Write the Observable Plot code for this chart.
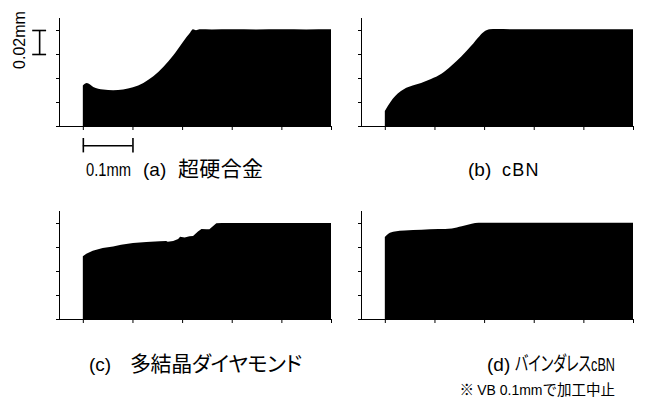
<!DOCTYPE html>
<html><head><meta charset="utf-8">
<script src="https://cdn.jsdelivr.net/npm/d3@7"></script>
<script src="https://cdn.jsdelivr.net/npm/@observablehq/plot@0.6"></script>
<style>
body{margin:0;background:#fff}
#root{position:relative;width:647px;height:402px;overflow:hidden;background:#fff}
.panel{position:absolute}
#labels{position:absolute;left:0;top:0}
</style></head><body><div id="root"></div>
<script>
// ---- data (mm) ----
const xTicks = [0, 0.1, 0.2, 0.3, 0.4, 0.5];
const yTicks = [0, 0.02, 0.04, 0.06, 0.08];

// (a) 超硬合金
const xA = [0, 0.004, 0.008, 0.021, 0.041, 0.061, 0.081, 0.101, 0.122, 0.142, 0.162, 0.182, 0.202, 0.216, 0.222, 0.228, 0.235, 0.26, 0.3, 0.35, 0.4, 0.45, 0.5];
const yA = [0.0337, 0.0352, 0.0358, 0.0326, 0.0304, 0.0298, 0.0304, 0.0323, 0.0359, 0.0414, 0.0491, 0.0588, 0.0703, 0.0778, 0.0806, 0.0798, 0.0806, 0.0805, 0.0806, 0.0805, 0.0806, 0.0805, 0.0806];
// (b) cBN
const xB = [0, 0.006, 0.016, 0.026, 0.039, 0.056, 0.073, 0.093, 0.114, 0.134, 0.154, 0.174, 0.191, 0.201, 0.211, 0.225, 0.26, 0.3, 0.35, 0.4, 0.45, 0.5];
const yB = [0.0124, 0.0166, 0.0227, 0.0271, 0.0309, 0.0337, 0.0359, 0.0392, 0.0436, 0.0502, 0.0579, 0.0668, 0.0751, 0.0789, 0.0806, 0.0808, 0.0806, 0.0807, 0.0806, 0.0807, 0.0806, 0.0806];
// (c) 多結晶ダイヤモンド
const xC = [0, 0.007, 0.020, 0.040, 0.061, 0.077, 0.101, 0.128, 0.155, 0.168, 0.171, 0.182, 0.192, 0.196, 0.205, 0.215, 0.222, 0.232, 0.239, 0.249, 0.255, 0.262, 0.269, 0.28, 0.32, 0.36, 0.4, 0.45, 0.5];
const yC = [0.0522, 0.0544, 0.0569, 0.0592, 0.0605, 0.0619, 0.0633, 0.0642, 0.0647, 0.065, 0.0644, 0.065, 0.0667, 0.0686, 0.068, 0.0689, 0.0692, 0.073, 0.075, 0.0747, 0.0747, 0.0772, 0.0797, 0.08, 0.08, 0.0801, 0.08, 0.08, 0.08];
// (d) バインダレスcBN
const xD = [0, 0.007, 0.020, 0.040, 0.074, 0.108, 0.135, 0.155, 0.175, 0.189, 0.22, 0.3, 0.4, 0.5];
const yD = [0.0683, 0.0711, 0.073, 0.0738, 0.0744, 0.075, 0.0755, 0.0772, 0.0794, 0.0802, 0.0802, 0.0802, 0.0802, 0.0802];

// scale bars (mm)
const vBarY = [0.06, 0.08];   // 0.02mm
const hBarX = [0, 0.1];       // 0.1mm

// ---- layout ----
const X0 = -0.048;
const root = document.getElementById("root");

function panel(xs, ys, curve, extra, left, top) {
  const data = xs.map((x, i) => ({x, y: ys[i]}));
  const chart = Plot.plot({
    width: 340, height: 160,
    marginLeft: 59, marginRight: 9, marginTop: 18, marginBottom: 34,
    x: {domain: [X0, 0.5]},
    y: {domain: [0, 0.09]},
    marks: [
      Plot.areaY(data, {x: "x", y: "y", fill: "black", curve}),
      Plot.ruleX([X0], {stroke: "black"}),
      Plot.ruleY([0], {stroke: "black"}),
      Plot.axisX(xTicks, {tickSize: 4, tickFormat: () => "", label: null, stroke: "black"}),
      Plot.axisY(yTicks, {tickSize: 4, dx: 1, tickFormat: () => "", label: null, stroke: "black"}),
      ...extra
    ]
  });
  chart.classList.add("panel");
  chart.style.left = left + "px";
  chart.style.top = top + "px";
  root.appendChild(chart);
}

const vbx = -0.088, capX = 0.014, hby = -0.016, capY = 0.006, sw = 1.6;
const bars = [
  Plot.ruleX([vbx], {y1: () => vBarY[0], y2: () => vBarY[1], stroke: "black", strokeWidth: sw}),
  Plot.ruleY(vBarY, {x1: () => vbx - capX, x2: () => vbx + capX, stroke: "black", strokeWidth: sw}),
  Plot.ruleY([hby], {x1: () => hBarX[0], x2: () => hBarX[1], stroke: "black", strokeWidth: sw}),
  Plot.ruleX(hBarX, {y1: () => hby - capY, y2: () => hby + capY, stroke: "black", strokeWidth: sw})
];

panel(xA, yA, "monotone-x", bars, 0, 0);
panel(xB, yB, "monotone-x", [], 302, 0);
panel(xC, yC, "linear", [], 0, 193);
panel(xD, yD, "monotone-x", [], 302, 193);

// ---- captions ----
const LAT = "'Liberation Sans', Arial, sans-serif";
const CJK = "'Noto Sans CJK JP', sans-serif";
const segs = [
  {t: "0.1mm", x: 86, y: 176, w: 45, f: LAT, s: 18, adj: "spacingAndGlyphs"},
  {t: "(a)", x: 143, y: 176, f: LAT, s: 19},
  {t: "超硬合金", x: 178, y: 176, w: 85, f: CJK, s: 21, adj: "spacing"},
  {t: "(b)", x: 468, y: 176, f: LAT, s: 19},
  {t: "cBN", x: 502, y: 176, w: 36.5, f: LAT, s: 18, adj: "spacing"},
  {t: "(c)", x: 89, y: 371, f: LAT, s: 19},
  {t: "多結晶ダイヤモンド", x: 130, y: 371, w: 172, f: CJK, s: 21, adj: "spacing"},
  {t: "(d)", x: 487, y: 371, f: LAT, s: 19}
];
const NS = "http://www.w3.org/2000/svg";
const svg = document.createElementNS(NS, "svg");
svg.setAttribute("id", "labels");
svg.setAttribute("width", 647);
svg.setAttribute("height", 402);
function addText(attrs, content, style) {
  const t = document.createElementNS(NS, "text");
  for (const k in attrs) if (attrs[k] !== undefined) t.setAttribute(k, attrs[k]);
  if (style) t.setAttribute("style", style);
  if (typeof content === "string") t.textContent = content;
  else content.forEach(c => t.appendChild(c));
  svg.appendChild(t);
  return t;
}
function tspan(txt, style) {
  const s = document.createElementNS(NS, "tspan");
  s.textContent = txt;
  s.setAttribute("style", style);
  return s;
}
segs.forEach(d => addText({x: d.x, y: d.y, textLength: d.w, lengthAdjust: d.w ? d.adj : undefined},
  d.t, `font-family:${d.f};font-size:${d.s}px;font-feature-settings:'palt';fill:#000`));

// (d) name, condensed to fit
addText({x: 515, y: 371, textLength: 100, lengthAdjust: "spacingAndGlyphs"}, [
  tspan("バインダレス", `font-family:${CJK};font-size:20px;font-feature-settings:'palt'`),
  tspan("cBN", `font-family:${LAT};font-size:18px`)
], "fill:#000");

// note
addText({x: 615, y: 395, "text-anchor": "end"}, [
  tspan("※ ", `font-family:${CJK};font-size:14.5px`),
  tspan("VB 0.1mm", `font-family:${LAT};font-size:14px`),
  tspan("で加工中止", `font-family:${CJK};font-size:14.5px`)
], "fill:#000");

// 0.02mm vertical label
addText({transform: "translate(25,40) rotate(-90)", "text-anchor": "middle"}, "0.02mm",
  `font-family:${LAT};font-size:16px;fill:#000`);

root.appendChild(svg);
</script></body></html>
